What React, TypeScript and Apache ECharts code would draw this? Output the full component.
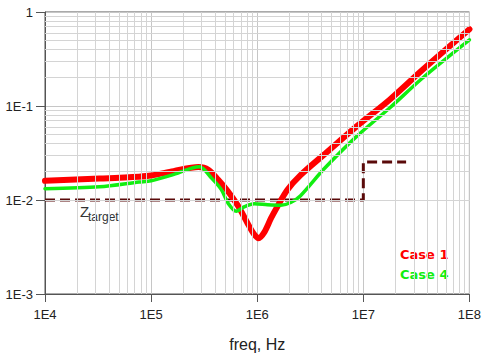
import React, { useEffect, useRef } from 'react';
import * as echarts from 'echarts';

// Case 1 impedance (Ohm) vs frequency (Hz)
const case1Freq = [1e4, 3.26e4, 7.7e4, 1e5, 1.63e5, 2.79e5, 3.46e5, 4.29e5, 5.31e5, 6.58e5, 8.15e5, 9.27e5, 1.03e6, 1.16e6, 1.35e6, 1.55e6, 1.92e6, 2.56e6, 4.23e6, 8.65e6, 1.77e7, 3.62e7, 1e8];
const case1Z = [0.016, 0.0169, 0.0177, 0.0182, 0.0203, 0.0224, 0.021, 0.0164, 0.0123, 0.0087, 0.0056, 0.00438, 0.00392, 0.00449, 0.0064, 0.00855, 0.0128, 0.0184, 0.0302, 0.0607, 0.1167, 0.243, 0.655];

// Case 4 impedance (Ohm) vs frequency (Hz)
const case4Freq = [1e4, 3.26e4, 7.7e4, 1e5, 1.56e5, 2.85e5, 3.71e5, 4.59e5, 5.3e5, 6.34e5, 7.6e5, 9.4e5, 1.25e6, 1.67e6, 2.07e6, 2.56e6, 4.23e6, 8.65e6, 1.77e7, 3.62e7, 1e8];
const case4Z = [0.0132, 0.0138, 0.0155, 0.016, 0.0184, 0.0226, 0.0171, 0.0129, 0.0093, 0.0076, 0.0085, 0.0091, 0.0089, 0.0088, 0.0094, 0.0111, 0.0212, 0.0475, 0.0952, 0.1986, 0.505];

// Target impedance mask
const targetFreq = [1e4, 1e7, 1e7, 2.53e7];
const targetZ = [0.01, 0.01, 0.0253, 0.0253];

const xTickLabels = ['1E4', '1E5', '1E6', '1E7', '1E8'];
const yTickLabels = ['1E-3', '1E-2', '1E-1', '1'];
const xDecades = [4, 5, 6, 7];
const yDecades = [-3, -2, -1];
const minorMultipliers = [2, 3, 4, 5, 6, 7, 8, 9];

const zip = (a: number[], b: number[]) => a.map((v, i) => [v, b[i]]);

export default function App() {
  const ref = useRef<HTMLDivElement>(null);
  useEffect(() => {
    if (!ref.current) return;
    const chart = echarts.init(ref.current, undefined, { renderer: 'svg' });
    const minorX: number[] = [];
    xDecades.forEach((e) => minorMultipliers.forEach((m) => minorX.push(m * Math.pow(10, e))));
    const minorY: number[] = [];
    yDecades.forEach((e) => minorMultipliers.forEach((m) => minorY.push(m * Math.pow(10, e))));
    const font = 'Liberation Sans, Arial, sans-serif';
    const labelFont = { color: '#222', fontSize: 13, fontFamily: font };
    chart.setOption({
      animation: false,
      backgroundColor: '#fff',
      grid: { left: 45, right: 10, top: 12, bottom: 64, show: true, borderColor: '#555', borderWidth: 1, backgroundColor: 'transparent' },
      xAxis: {
        type: 'log', logBase: 10, min: 1e4, max: 1e8,
        axisLine: { show: true, onZero: false, lineStyle: { color: '#555', width: 1 } },
        axisTick: { show: true, length: 8, lineStyle: { color: '#555' } },
        axisLabel: { ...labelFont, margin: 14, formatter: (v: number) => xTickLabels[Math.round(Math.log10(v)) - 4] ?? '' },
        splitLine: { show: true, lineStyle: { color: '#c6c6c6', width: 1 } },
        name: 'freq, Hz', nameLocation: 'middle', nameGap: 42,
        nameTextStyle: { color: '#222', fontSize: 16, fontFamily: font },
      },
      yAxis: {
        type: 'log', logBase: 10, min: 1e-3, max: 1,
        axisLine: { show: true, onZero: false, lineStyle: { color: '#555', width: 1 } },
        axisTick: { show: true, length: 9, lineStyle: { color: '#555' } },
        axisLabel: { ...labelFont, margin: 12, formatter: (v: number) => yTickLabels[Math.round(Math.log10(v)) + 3] ?? '' },
        splitLine: { show: true, lineStyle: { color: '#c6c6c6', width: 1 } },
      },
      series: [
        {
          type: 'line', data: [], silent: true, z: 1,
          markLine: {
            silent: true, symbol: ['none', 'none'], label: { show: false },
            lineStyle: { color: '#d4d4d4', width: 1, type: 'solid' },
            emphasis: { disabled: true },
            data: [...minorX.map((v) => ({ xAxis: v })), ...minorY.map((v) => ({ yAxis: v }))],
          },
        },
        {
          name: 'Target', type: 'line', data: zip(targetFreq, targetZ), showSymbol: false, z: 2,
          lineStyle: { color: '#5a0a0a', width: 3, type: [10, 5] },
        },
        {
          name: 'Case 1', type: 'line', data: zip(case1Freq, case1Z), showSymbol: false, smooth: 0.3, z: 3,
          lineStyle: { color: '#ff0000', width: 6, cap: 'round', join: 'round' },
        },
        {
          name: 'Case 4', type: 'line', data: zip(case4Freq, case4Z), showSymbol: false, smooth: 0.3, z: 4,
          lineStyle: { color: '#11ee11', width: 3.5, cap: 'round', join: 'round' },
        },
      ],
      graphic: [
        { type: 'text', left: 80, top: 204, style: { text: 'Z', fontSize: 15, fill: '#333', fontFamily: font } },
        { type: 'text', left: 88, top: 211, style: { text: 'target', fontSize: 12, fill: '#333', fontFamily: font } },
        { type: 'text', left: 400, top: 248, style: { text: 'Case 1', fontSize: 13, fontWeight: 'bold', fill: '#ff0000', fontFamily: 'DejaVu Sans, sans-serif' } },
        { type: 'text', left: 400, top: 268, style: { text: 'Case 4', fontSize: 13, fontWeight: 'bold', fill: '#11ee11', fontFamily: 'DejaVu Sans, sans-serif' } },
      ],
    });
    return () => chart.dispose();
  }, []);
  return <div ref={ref} style={{ position: 'absolute', left: 0, top: 0, width: 484, height: 358, background: '#fff' }} />;
}
